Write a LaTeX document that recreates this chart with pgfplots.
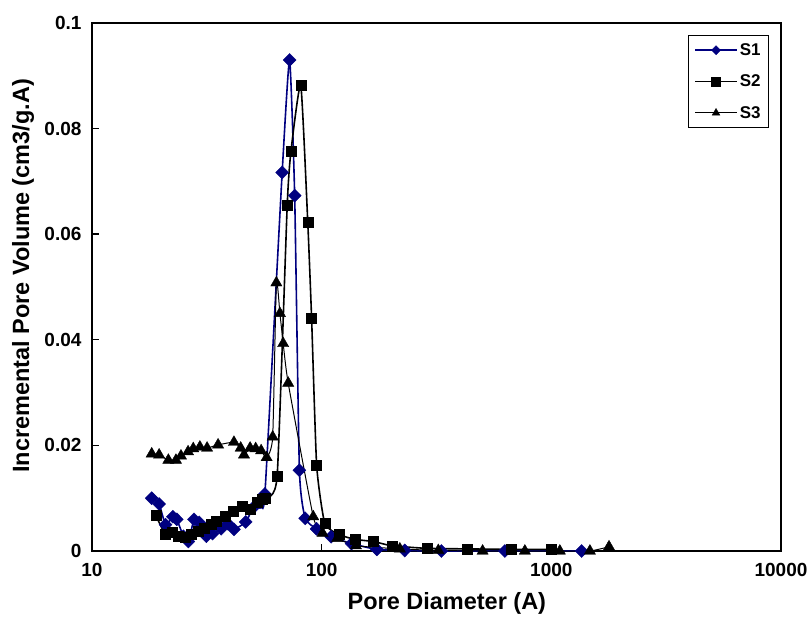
\documentclass[border=0pt]{standalone}
\usepackage{fontspec}
\setmainfont{Liberation Sans}
\usepackage{pgfplots}
\pgfplotsset{compat=1.18}
\definecolor{sone}{RGB}{0,0,128}
\begin{document}
\begin{tikzpicture}[x=1pt,y=1pt]
\useasboundingbox (0,0) rectangle (810,621);
\begin{axis}[
  at={(92pt,70pt)}, anchor=south west,
  scale only axis, width=689pt, height=528pt,
  xmode=log, xmin=10, xmax=10000, ymin=0, ymax=0.1,
  log basis x=10,
  xtick={10,100,1000,10000}, xticklabels={10,100,1000,10000},
  ytick={0,0.02,0.04,0.06,0.08,0.1}, yticklabels={0,0.02,0.04,0.06,0.08,0.1},
  xtick pos=bottom, ytick pos=left, tick align=inside,
  major tick length=7pt, minor tick length=4pt,
  axis line style={line width=2.5pt},
  every tick/.style={black, line width=1.4pt},
  tick label style={font=\bfseries\fontsize{19}{19}\selectfont},
  xticklabel style={yshift=-9pt},
  yticklabel style={xshift=-7pt},
  label style={font=\bfseries\fontsize{23.5}{24}\selectfont},
  xlabel={Pore Diameter (A)},
  ylabel={Incremental Pore Volume (cm3/g.A)},
  xlabel style={at={(axis description cs:0.515,-0.0985)}, anchor=center},
  ylabel style={at={(axis description cs:-0.100,0.521)}, anchor=center, rotate=0},
  clip=false,
  legend style={at={(0.9826,0.977)}, anchor=north east, draw=black, line width=0.8pt,
    font=\bfseries\fontsize{17}{20}\selectfont, row sep=14pt, inner xsep=6pt, inner ysep=6pt},
  legend cell align=left,
  legend image code/.code={\draw[mark repeat=2,mark phase=2,mark size=4.5pt] plot coordinates {(0pt,0pt) (21pt,0pt) (42pt,0pt)};},
]
\addplot[color=sone, line width=1.6pt, smooth, tension=0.3, mark=diamond*, mark size=6.5pt,
  mark options={solid, fill=sone, xscale=1.33, line width=0.4pt}] coordinates {
(18.2,0.0100) (19.6,0.0089) (20.9,0.0050) (22.5,0.0065) (23.4,0.0060) (25.0,0.0028)
(26.3,0.0018) (27.8,0.0060) (29.3,0.0054) (31.5,0.0028) (33.5,0.0033) (36.5,0.0042)
(39.0,0.0052) (41.5,0.0041) (46.7,0.0055) (50.3,0.0082) (53.9,0.0092) (56.6,0.0108)
(67.3,0.0717) (72.5,0.0930) (76.3,0.0673) (80.0,0.0153) (84.8,0.0062) (95,0.0042)
(110,0.0027) (135,0.0014) (174,0.0003) (230,0.0001) (332,0.0) (628,0.0) (1355,0.0)
};
\addlegendentry{S1}
\addplot[black, line width=1.6pt, smooth, tension=0.3, mark=square*, mark size=5pt,
  mark options={solid, fill=black, line width=0.4pt}] coordinates {
(19.0,0.0067) (20.8,0.0032) (22.3,0.0035) (23.8,0.0028) (25.5,0.0026) (27.1,0.0032)
(29.0,0.0038) (30.9,0.0044) (32.9,0.0050) (34.9,0.0056) (38.0,0.0066) (41.3,0.0076)
(45.3,0.0084) (48.8,0.0080) (52.2,0.0092) (54.9,0.0098) (57.0,0.0100) (64.0,0.0142)
(70.8,0.0655) (73.5,0.0757) (81.1,0.0882) (87.0,0.0622) (90.4,0.0441) (95.1,0.0162)
(103.2,0.0052) (119.4,0.0031) (139.6,0.0022) (167.8,0.0018) (201.8,0.0010) (287,0.0005)
(430,0.0004) (667,0.0003) (1002,0.0003)
};
\addlegendentry{S2}
\addplot[black, line width=1pt, smooth, tension=0.3, mark=triangle*, mark size=6.5pt,
  mark options={solid, fill=black, line width=0.4pt}] coordinates {
(18.2,0.0184) (19.6,0.0182) (21.5,0.0172) (23.2,0.0172) (24.4,0.0180) (26.2,0.0188)
(27.6,0.0194) (29.5,0.0197) (31.7,0.0195) (35.4,0.0201) (41.5,0.0206) (44.4,0.0195)
(45.9,0.0182) (48.8,0.0195) (51.6,0.0194) (54.5,0.0190) (57.6,0.0177) (61.2,0.0216)
(63.5,0.0508) (65.8,0.0450) (68.0,0.0393) (71.5,0.0318) (91.9,0.0065) (100.9,0.0034)
(116.9,0.0024) (141,0.0010) (219,0.0004) (322,0.0001) (502,0.0) (767,0.0) (1089,0.0)
(1472,0.0) (1783,0.0008)
};
\addlegendentry{S3}
\end{axis}
\end{tikzpicture}
\end{document}
